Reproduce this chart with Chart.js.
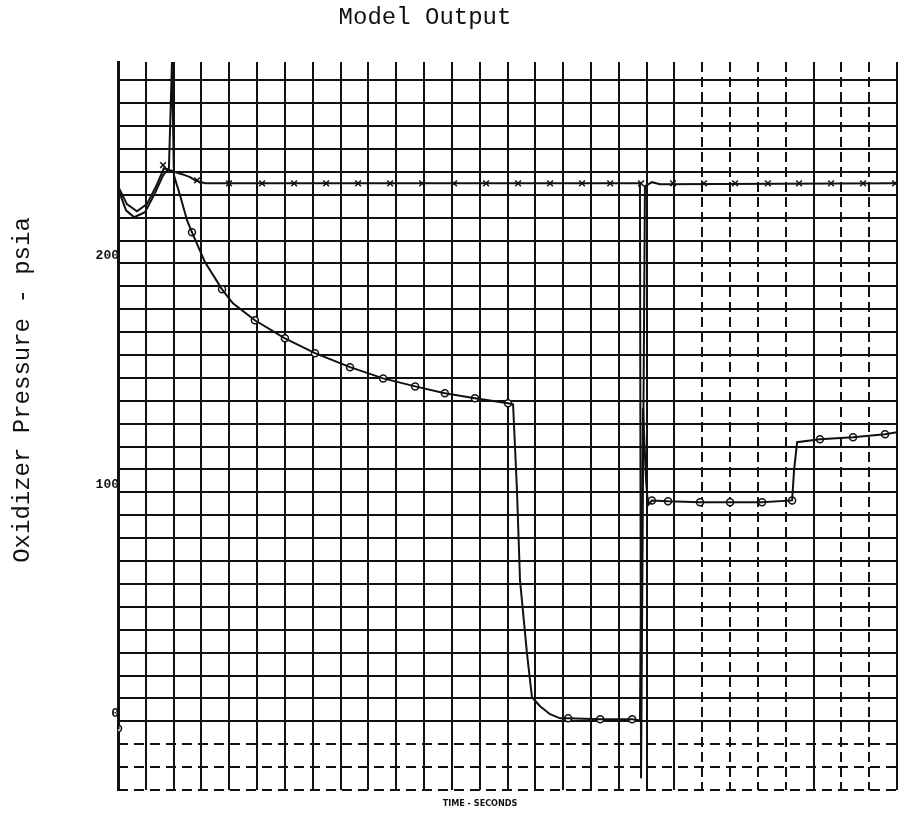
<!DOCTYPE html>
<html>
<head>
<meta charset="utf-8">
<title>Model Output</title>
<script src="https://cdn.jsdelivr.net/npm/chart.js@4.4.0/dist/chart.umd.min.js"></script>
<style>
  body { margin: 0; background: #fff; }
  #wrap { width: 909px; height: 817px; }
</style>
</head>
<body>
<div id="wrap"><canvas id="pressureChart" width="909" height="817"></canvas></div>
<script>
// Upper trace (x markers) - time in grid divisions, pressure in psia
const aTime = [0, 0.32, 0.68, 1.04, 1.37, 1.65, 1.87, 2.3, 2.59, 2.77, 3.13, 18.76, 18.8, 18.94, 19.19, 19.48, 28];
const aPressure = [233.7, 225.9, 222.8, 225.9, 233.7, 241.6, 240.7, 239, 237.7, 236.3, 235, 235, -24.9, 233.7, 235.5, 234.6, 235];

// Lower trace (circle markers)
const bTime = [0, 0.02, 0.29, 0.58, 0.97, 1.33, 1.62, 1.83, 1.94, 2.01, 2.23, 2.48, 2.66, 3.13, 3.74, 4.13,
  4.92, 6.0, 7.08, 8.34, 9.53, 10.68, 11.75, 12.83, 14.02, 14.2, 14.34, 14.45, 14.7, 14.88, 15.17, 15.53,
  15.89, 16.18, 17.33, 18.48, 18.76, 18.87, 18.98, 19.05, 19.19, 19.77, 20.92, 22.0, 23.15, 24.23, 24.3,
  24.41, 25.23, 26.42, 27.57, 28.0];
const bPressure = [-3.1, 232, 223.2, 220.2, 222.4, 230.7, 238.5, 241.6, 288, 238.5, 229.8, 218.9, 213.6, 200.5, 188.7, 182.6,
  175.2, 167.3, 160.8, 154.7, 149.8, 146.3, 143.3, 141.1, 138.9, 138.5, 100.9, 61.6, 29.7, 10.5, 6.6, 3.1,
  1.3, 1.3, 0.9, 0.9, 0.4, 136.7, 105.3, 94.4, 96.5, 96.1, 95.7, 95.7, 95.7, 96.5, 109.7,
  121.9, 123.2, 124.1, 125.4, 126.3];

// Where the plotter put its symbols
const aMarkTime = [1.62, 2.84, 3.99, 5.18, 6.33, 7.48, 8.63, 9.78, 10.93, 12.08, 13.23, 14.38,
  15.53, 16.68, 17.69, 18.8, 19.95, 21.06, 22.18, 23.36, 24.48, 25.63, 26.78, 27.93];
const aMarkPressure = [243, 236.3, 235, 235, 235, 235, 235, 235, 235, 235, 235, 235,
  235, 235, 235, 235, 235, 235, 235, 235, 235, 235, 235, 235];
const bMarkTime = [0, 2.66, 3.74, 4.92, 6.0, 7.08, 8.34, 9.53, 10.68, 11.75, 12.83, 14.02,
  16.18, 17.33, 18.48, 19.19, 19.77, 20.92, 22.0, 23.15, 24.23, 25.23, 26.42, 27.57];
const bMarkPressure = [-3.1, 213.6, 188.7, 175.2, 167.3, 160.8, 154.7, 149.8, 146.3, 143.3, 141.1, 138.9,
  1.3, 0.9, 0.9, 96.5, 96.1, 95.7, 95.7, 95.7, 96.5, 123.2, 124.1, 125.4];

// Axis ticks
const yLabels = [0, 100, 200];
const dashedColumns = [21, 22, 23, 24, 26, 27];

const INK = "#111111";
const NONE = "rgba(0,0,0,0)";

function toPoints(xs, ys) {
  return xs.map((x, i) => ({ x: x, y: ys[i] }));
}

// Draws the typed titles in the places the plotter left them
const titlesPlugin = {
  id: "scanTitles",
  afterDraw(chart) {
    const ctx = chart.ctx;
    ctx.save();
    ctx.fillStyle = INK;
    ctx.textAlign = "center";
    ctx.textBaseline = "middle";
    ctx.font = '24px "Liberation Mono"';
    ctx.fillText("Model Output", 425, 18);
    ctx.font = 'bold 9px "DejaVu Sans Condensed"';
    ctx.fillText("TIME - SECONDS", 480, 804);
    ctx.translate(23, 390);
    ctx.rotate(-Math.PI / 2);
    ctx.font = '24px "Liberation Mono"';
    ctx.fillText("Oxidizer Pressure - psia", 0, 0);
    ctx.restore();
  },
};

document.addEventListener("DOMContentLoaded", function () {
  const ctx = document.getElementById("pressureChart").getContext("2d");

  new Chart(ctx, {
    type: "line",
    data: {
      datasets: [
        {
          data: toPoints(aTime, aPressure),
          borderColor: INK,
          borderWidth: 2,
          pointRadius: 0,
          tension: 0,
        },
        {
          data: toPoints(bTime, bPressure),
          borderColor: INK,
          borderWidth: 2,
          pointRadius: 0,
          tension: 0,
        },
        {
          data: toPoints(aMarkTime, aMarkPressure),
          showLine: false,
          pointStyle: "crossRot",
          pointRadius: 4,
          borderColor: INK,
          borderWidth: 1.5,
        },
        {
          data: toPoints(bMarkTime, bMarkPressure),
          showLine: false,
          pointStyle: "circle",
          pointRadius: 3.5,
          backgroundColor: "#fff",
          borderColor: INK,
          borderWidth: 1.5,
        },
      ],
    },
    options: {
      responsive: false,
      animation: false,
      devicePixelRatio: 1,
      layout: { padding: { top: 62, right: 12, bottom: 27, left: 0 } },
      plugins: { legend: { display: false }, tooltip: { enabled: false }, title: { display: false } },
      scales: {
        x: {
          type: "linear",
          min: 0,
          max: 28,
          ticks: { stepSize: 1, display: false, autoSkip: false },
          grid: {
            drawTicks: false,
            lineWidth: 2,
            color: (c) => (c.tick && !dashedColumns.includes(c.tick.value) ? INK : NONE),
          },
          border: { display: false },
          afterFit: (s) => { s.height = 0; },
        },
        x2: {
          type: "linear",
          position: "bottom",
          min: 0,
          max: 28,
          ticks: { stepSize: 1, display: false, autoSkip: false },
          grid: {
            drawTicks: false,
            lineWidth: 2,
            color: (c) => (c.tick && dashedColumns.includes(c.tick.value) ? INK : NONE),
          },
          border: { display: false, dash: [10, 5] },
          afterFit: (s) => { s.height = 0; },
        },
        y: {
          min: -30,
          max: 288,
          ticks: {
            stepSize: 10,
            autoSkip: false,
            padding: -1,
            labelOffset: -8,
            color: INK,
            font: { family: "Liberation Mono", size: 13, weight: "bold" },
            callback: (v) => (yLabels.includes(v) ? String(v) : ""),
          },
          grid: {
            drawTicks: false,
            lineWidth: 2,
            color: (c) => (c.tick && c.tick.value >= 0 && c.tick.value % 10 === 0 ? INK : NONE),
          },
          border: { display: true, color: INK, width: 3 },
          afterFit: (s) => { s.width = 118; },
        },
        y2: {
          position: "left",
          min: -30,
          max: 288,
          ticks: { stepSize: 10, display: false, autoSkip: false },
          grid: {
            drawTicks: false,
            lineWidth: 2,
            color: (c) => (c.tick && c.tick.value < 0 && c.tick.value % 10 === 0 ? INK : NONE),
          },
          border: { display: false, dash: [10, 6] },
          afterFit: (s) => { s.width = 0; },
        },
      },
    },
    plugins: [titlesPlugin],
  });
});
</script>
</body>
</html>
